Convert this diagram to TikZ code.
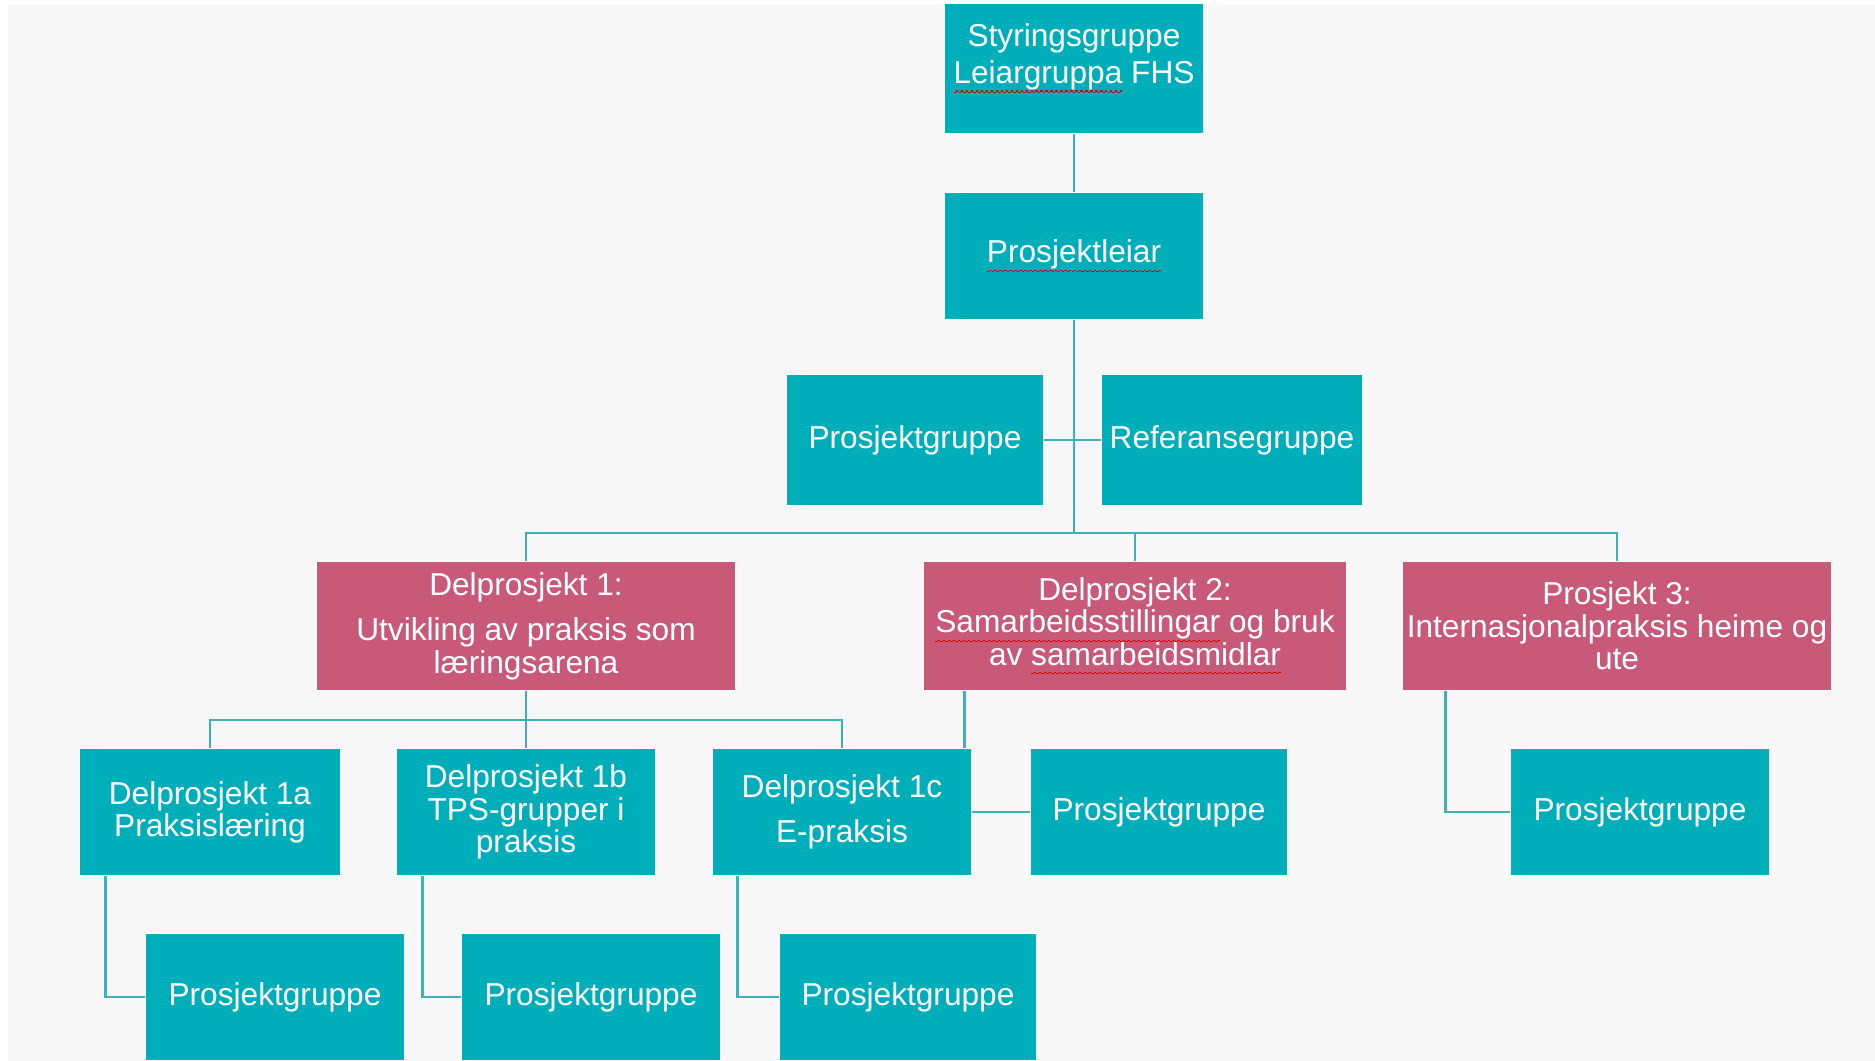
\documentclass[tikz,border=0pt]{standalone}
\usepackage{fontspec}
\setmainfont{Liberation Sans}
\usepackage{xcolor}
\usepackage{tikz}
\usetikzlibrary{positioning}
\usetikzlibrary{backgrounds}
\usetikzlibrary{calc}

\definecolor{tealbox}{RGB}{0,174,186}
\definecolor{rosebox}{RGB}{200,89,120}
\definecolor{linkline}{RGB}{62,178,188}
\definecolor{sheet}{RGB}{247,247,247}

% red wavy spell-check line under a word
\newsavebox{\spellbox}
\newcommand{\spellmark}[1]{\sbox{\spellbox}{#1}%
  \rlap{\textcolor{red!85!black}{\raisebox{-2.6pt}{\hbox to \wd\spellbox{%
    \xleaders\hbox{\rule{0.7pt}{0.35pt}\raisebox{0.35pt}{\rule{0.7pt}{0.35pt}}}\hfil}}}}%
  \usebox{\spellbox}}

\tikzset{
  orgbox/.style={rectangle, fill=tealbox, draw=white, line width=0.3pt,
    text=white, align=center, inner sep=0pt,
    font=\fontsize{9}{9.2}\selectfont},
  subbox/.style={orgbox, fill=rosebox},
  link/.style={draw=linkline, line width=0.8pt}
}

\begin{document}
\begin{tikzpicture}[x=0.01cm, y=-0.01cm]

\useasboundingbox (0,0) rectangle (1875,1061);

% grey sheet
\begin{scope}[on background layer]
\fill[sheet] (8,5) rectangle (1875,1061);
\end{scope}

\begin{scope}
\clip (8,5) rectangle (1875,1061);

% top of the chart
\node[orgbox, minimum width=2.58cm, minimum height=1.50cm] (styr) at (1074,58)
  {Styringsgruppe\\[1.5pt]\spellmark{Leiargruppa} FHS};
\node[orgbox, minimum width=2.58cm, minimum height=1.27cm] (leiar) at (1074,256)
  {\spellmark{Prosjektleiar}};
\node[orgbox, minimum width=2.57cm, minimum height=1.30cm] (pgmain) at (915,440)
  {Prosjektgruppe};
\node[orgbox, minimum width=2.60cm, minimum height=1.30cm] (refgr) at (1232,440)
  {Referansegruppe};

% the three part projects
\node[subbox, minimum width=4.18cm, minimum height=1.29cm] (dp1) at (526,626)
  {Delprosjekt 1:\\[3.7pt]Utvikling av praksis som\\læringsarena};
\node[subbox, minimum width=4.22cm, minimum height=1.29cm] (dp2) at (1135,626)
  {Delprosjekt 2:\\\spellmark{Samarbeidsstillingar} og bruk\\av \spellmark{samarbeidsmidlar}};
\node[subbox, minimum width=4.28cm, minimum height=1.29cm] (p3) at (1617,626)
  {Prosjekt 3:\\Internasjonalpraksis heime og\\ute};

% second row
\node[orgbox, minimum width=2.60cm, minimum height=1.26cm] (dp1a) at (210,812)
  {Delprosjekt 1a\\Praksislæring};
\node[orgbox, minimum width=2.58cm, minimum height=1.26cm] (dp1b) at (526,812)
  {Delprosjekt 1b\\TPS-grupper i\\praksis};
\node[orgbox, minimum width=2.59cm, minimum height=1.26cm] (dp1c) at (842,812)
  {Delprosjekt 1c\\[3.7pt]E-praksis};
\node[orgbox, minimum width=2.57cm, minimum height=1.26cm] (pg2) at (1159,812)
  {Prosjektgruppe};
\node[orgbox, minimum width=2.58cm, minimum height=1.26cm] (pg3) at (1640,812)
  {Prosjektgruppe};

% bottom row
\node[orgbox, minimum width=2.59cm, minimum height=1.27cm] (pg1a) at (275,997)
  {Prosjektgruppe};
\node[orgbox, minimum width=2.59cm, minimum height=1.27cm] (pg1b) at (591,997)
  {Prosjektgruppe};
\node[orgbox, minimum width=2.57cm, minimum height=1.27cm] (pg1c) at (908,997)
  {Prosjektgruppe};
\end{scope}

% bus points
\coordinate (bus) at (1074,533);
\coordinate (bus1) at (526,720);

\begin{scope}[on background layer]
\draw[link] (styr) -- (leiar);
\draw[link] (leiar) -- (bus) -| (dp1);
\draw[link] (bus) -| (dp2);
\draw[link] (bus) -| (p3);
\draw[link] (pgmain) -- (refgr);

\draw[link] (dp1) -- (bus1) -| (dp1a);
\draw[link] (bus1) -- (dp1b);
\draw[link] (bus1) -| (dp1c);

% hanging groups
\draw[link] ($(dp2.south west)+(41,0)$) |- (pg2);
\draw[link] ($(p3.south west)+(43,0)$) |- (pg3);
\draw[link] ($(dp1a.south west)+(26,0)$) |- (pg1a);
\draw[link] ($(dp1b.south west)+(26,0)$) |- (pg1b);
\draw[link] ($(dp1c.south west)+(26,0)$) |- (pg1c);
\end{scope}

\end{tikzpicture}
\end{document}
